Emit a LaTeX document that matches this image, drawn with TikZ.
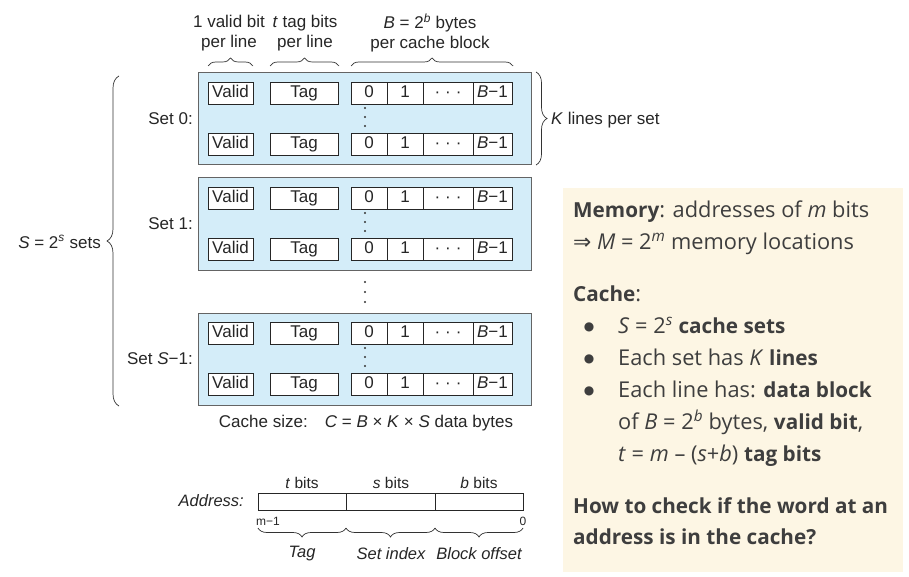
\documentclass[tikz,border=0pt]{standalone}
\usepackage{fontspec}
\setmainfont{Liberation Sans}
\newfontfamily\panelfont{Open Sans}[BoldFeatures={Scale=0.95}]
\newfontfamily\symfont{DejaVu Sans}
\usetikzlibrary{decorations.pathreplacing,calc}
\definecolor{cacheblue}{RGB}{212,237,249}
\definecolor{panelbg}{RGB}{253,246,228}
\definecolor{paneltext}{RGB}{62,62,62}
\definecolor{boxline}{RGB}{100,100,100}
\tikzset{
  cell/.style={draw=black!85, fill=white, line width=0.8pt, minimum height=22, inner sep=0pt, text height=12pt, text depth=3.5pt, font=\fontsize{17}{20}\selectfont, text=black!85},
  setbox/.style={draw=boxline, fill=cacheblue, line width=1pt, minimum width=333, minimum height=92, inner sep=0pt},
  lbl/.style={font=\fontsize{17}{20}\selectfont, text=black!85, inner sep=0pt, align=center},
  smalllbl/.style={font=\fontsize{12}{14}\selectfont, text=black!85, inner sep=0pt},
  bracedec/.style={decorate, decoration={brace, amplitude=#1}, draw=black!80, line width=0.7pt},
  ptxt/.style={font=\panelfont\fontsize{21.8}{24}\selectfont, text=paneltext, inner sep=0pt, anchor=base west},
  bul/.style={font=\symfont\fontsize{12}{14}\selectfont, text=paneltext, inner sep=0pt, anchor=center},
  dotmark/.style={fill=black!80}
}
\begin{document}
\begin{tikzpicture}[x=1pt,y=-1pt]
\useasboundingbox (0,0) rectangle (909,577);
\fill[white] (0,0) rectangle (909,577);

% ---- sets ----
\foreach \s/\cy/\lab in {0/119/{Set 0:}, 1/224/{Set 1:}, 2/359/{Set \textit{S}−1:}} {
  \node[setbox] (set\s) at (364.5,\cy) {};
  \node[lbl, anchor=east] (setlab\s) at (193,\cy) {\lab};
  \foreach \r/\dy in {a/-26, b/25} {
    \pgfmathsetmacro\ry{\cy+\dy}
    \node[cell, minimum width=45] (v\s\r) at (230.5,\ry) {Valid};
    \node[cell, minimum width=68] (t\s\r) at (304,\ry) {Tag};
    \node[cell, minimum width=36] (z\s\r) at (369,\ry) {0};
    \node[cell, minimum width=36] (o\s\r) at (405,\ry) {1};
    \node[cell, minimum width=50] (d\s\r) at (448,\ry) {·\hspace{5pt}·\hspace{5pt}·};
    \node[cell, minimum width=39] (e\s\r) at (492.5,\ry) {\textit{B}−1};
  }
  \foreach \dy in {-11,-2,7} {
    \fill[dotmark] (365,\cy+\dy) circle (1.1);
  }
}
\foreach \yy in {282,292,302} {
  \fill[dotmark] (365,\yy) circle (1.1);
}

% ---- top labels and braces ----
\node[lbl] (lvalid) at (229,33) {1 valid bit\\per line};
\node[lbl] (ltag) at (305,33) {\textit{t} tag bits\\per line};
\node[lbl] (lblock) at (430,33) {\textit{B} = 2\textsuperscript{\textit{b}} bytes\\per cache block};
\coordinate (bv1) at (208,66); \coordinate (bv2) at (253,66);
\coordinate (bt1) at (270,66); \coordinate (bt2) at (339,66);
\coordinate (bb1) at (351,66); \coordinate (bb2) at (513,66);
\draw[bracedec=8] (bv1) -- (bv2);
\draw[bracedec=8] (bt1) -- (bt2);
\draw[bracedec=8] (bb1) -- (bb2);

% ---- right brace K lines ----
\coordinate (kb1) at (536,72); \coordinate (kb2) at (536,165);
\draw[bracedec=11] (kb1) -- (kb2);
\node[lbl, anchor=west] (klines) at (551,120) {\textit{K} lines per set};

% ---- left brace S sets ----
\coordinate (sb1) at (119,406); \coordinate (sb2) at (119,76);
\draw[bracedec=12] (sb1) -- (sb2);
\node[lbl, anchor=east] (ssets) at (101,242) {\textit{S} = 2\textsuperscript{\textit{s}} sets};

% ---- cache size ----
\node[lbl] (csize) at (366,423) {Cache size:\quad \textit{C} = \textit{B} × \textit{K} × \textit{S} data bytes};

% ---- address ----
\node[draw=black!85, line width=0.8pt, minimum width=88, minimum height=17, inner sep=0pt] (atag) at (302,501.5) {};
\node[draw=black!85, line width=0.8pt, minimum width=89, minimum height=17, inner sep=0pt] (aset) at (390.5,501.5) {};
\node[draw=black!85, line width=0.8pt, minimum width=88, minimum height=17, inner sep=0pt] (aoff) at (479,501.5) {};
\node[lbl, anchor=east, font=\fontsize{16.5}{20}\selectfont\itshape] (addr) at (244,501) {Address:};
\node[lbl, font=\fontsize{15.5}{18}\selectfont] (tbits) at (302,483) {\textit{t} bits};
\node[lbl, font=\fontsize{15.5}{18}\selectfont] (sbits) at (391,483) {\textit{s} bits};
\node[lbl, font=\fontsize{15.5}{18}\selectfont] (bbits) at (479,483) {\textit{b} bits};
\node[smalllbl, anchor=west] (mm1) at (256,521) {m−1};
\node[smalllbl] (zero) at (523,521) {0};
\coordinate (ab1) at (258,528); \coordinate (ab2) at (346,528);
\coordinate (ab3) at (435,528); \coordinate (ab4) at (523,528);
\draw[bracedec=9] (ab2) -- (ab1);
\draw[bracedec=9] (ab3) -- (ab2);
\draw[bracedec=9] (ab4) -- (ab3);
\node[lbl, font=\fontsize{16.5}{20}\selectfont\itshape] (ltagb) at (302,554) {Tag};
\node[lbl, font=\fontsize{16.5}{20}\selectfont\itshape] (lsetb) at (391,554) {Set index};
\node[lbl, font=\fontsize{16.5}{20}\selectfont\itshape] (loffb) at (479,554) {Block offset};

% ---- right panel ----
\node[fill=panelbg, minimum width=340, minimum height=384, inner sep=0pt, anchor=north west] (panel) at (563,188) {};
\node[ptxt] (p1) at (573,218) {\textbf{Memory}: addresses of \textit{m} bits};
\node[ptxt] (p2) at (573,249) {{\symfont ⇒} \textit{M} = 2\textsuperscript{\textit{m}} memory locations};
\node[ptxt] (p3) at (573,301) {\textbf{Cache}:};
\node[bul] (b1) at (589,327) {●};
\node[ptxt] (p4) at (618,333) {\textit{S} = 2\textsuperscript{\textit{s}} \textbf{cache sets}};
\node[bul] (b2) at (589,359) {●};
\node[ptxt] (p5) at (618,365) {Each set has \textit{K} \textbf{lines}};
\node[bul] (b3) at (589,391) {●};
\node[ptxt] (p6) at (618,397) {Each line has: \textbf{data block}};
\node[ptxt] (p7) at (618,429) {of \textit{B} = 2\textsuperscript{\textit{b}} bytes, \textbf{valid bit},};
\node[ptxt] (p8) at (618,461) {\textit{t} = \textit{m} – (\textit{s}+\textit{b}) \textbf{tag bits}};
\node[ptxt] (p9) at (573,513) {\textbf{How to check if the word at an}};
\node[ptxt] (p10) at (573,544) {\textbf{address is in the cache?}};
\end{tikzpicture}
\end{document}
